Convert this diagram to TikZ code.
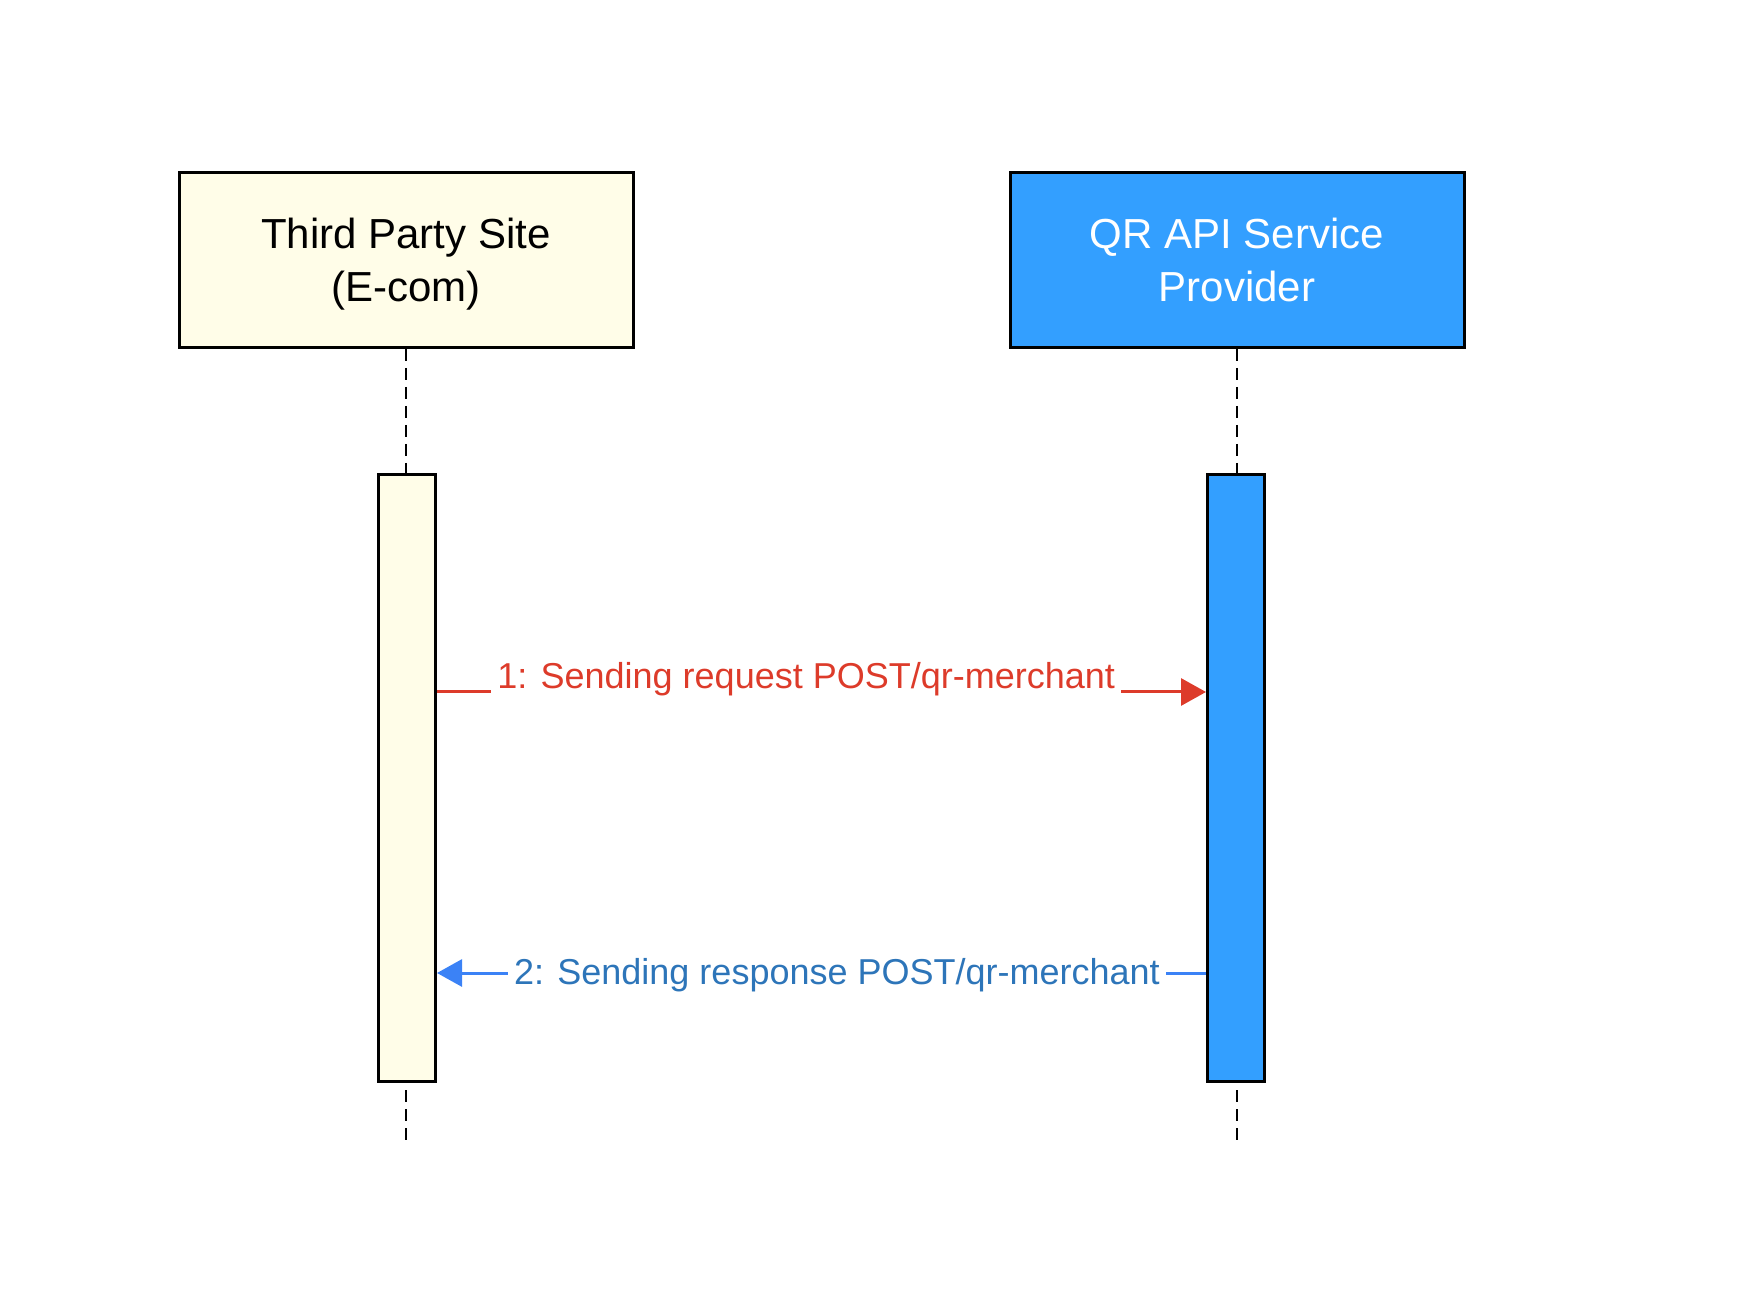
\documentclass[tikz,border=0pt]{standalone}
\usepackage{fontspec}
\setmainfont{Liberation Sans}
\usetikzlibrary{arrows.meta,positioning}
\definecolor{siteyellow}{RGB}{255,253,232}
\definecolor{qrblue}{RGB}{51,159,255}
\definecolor{reqred}{RGB}{221,59,42}
\definecolor{resline}{RGB}{59,130,246}
\definecolor{restext}{RGB}{45,117,185}
\begin{document}
\begin{tikzpicture}[x=0.5pt, y=-0.5pt,
  actor/.style={rectangle, draw=black, line width=1.5pt, minimum width=227pt, minimum height=87.5pt, align=center, text depth=0pt, font=\fontsize{21}{26.5}\selectfont},
  bar/.style={rectangle, draw=black, line width=1.5pt, minimum width=28.5pt, minimum height=303pt, inner sep=0pt},
  lifeline/.style={dash pattern=on 6pt off 3.5pt, line width=1.4pt},
  msg/.style={line width=1.5pt, -{Triangle[length=12.5pt,width=13.5pt]}},
  msglabel/.style={fill=white, inner xsep=3pt, inner ysep=2pt, anchor=base, pos=0.48, font=\fontsize{18}{20}\selectfont}]
\useasboundingbox (0,0) rectangle (1740,1293);
% Participants
\node[actor, fill=siteyellow] (site) at (406,260) {Third Party Site\\(E-com)};
\node[actor, fill=qrblue, text=white] (qr) at (1237,260) {QR API Service\\Provider};
% Lifelines
\coordinate (siteend) at (406,1144);
\coordinate (qrend) at (1237,1144);
\draw[lifeline] (site.south) -- (siteend);
\draw[lifeline] (qr.south) -- (qrend);
% Activation bars
\node[bar, fill=siteyellow] (sitebar) at (407,778) {};
\node[bar, fill=qrblue] (qrbar) at (1236,778) {};
% Messages
\draw[msg, reqred] ([yshift=43pt]sitebar.east) -- ([yshift=43pt]qrbar.west)
  node[msglabel, text=reqred, yshift=1.5pt] {1: Sending request POST/qr-merchant};
\draw[msg, resline] ([yshift=-97.5pt]qrbar.west) -- ([yshift=-97.5pt]sitebar.east)
  node[msglabel, text=restext, yshift=-5.5pt] {2: Sending response POST/qr-merchant};
\end{tikzpicture}
\end{document}
